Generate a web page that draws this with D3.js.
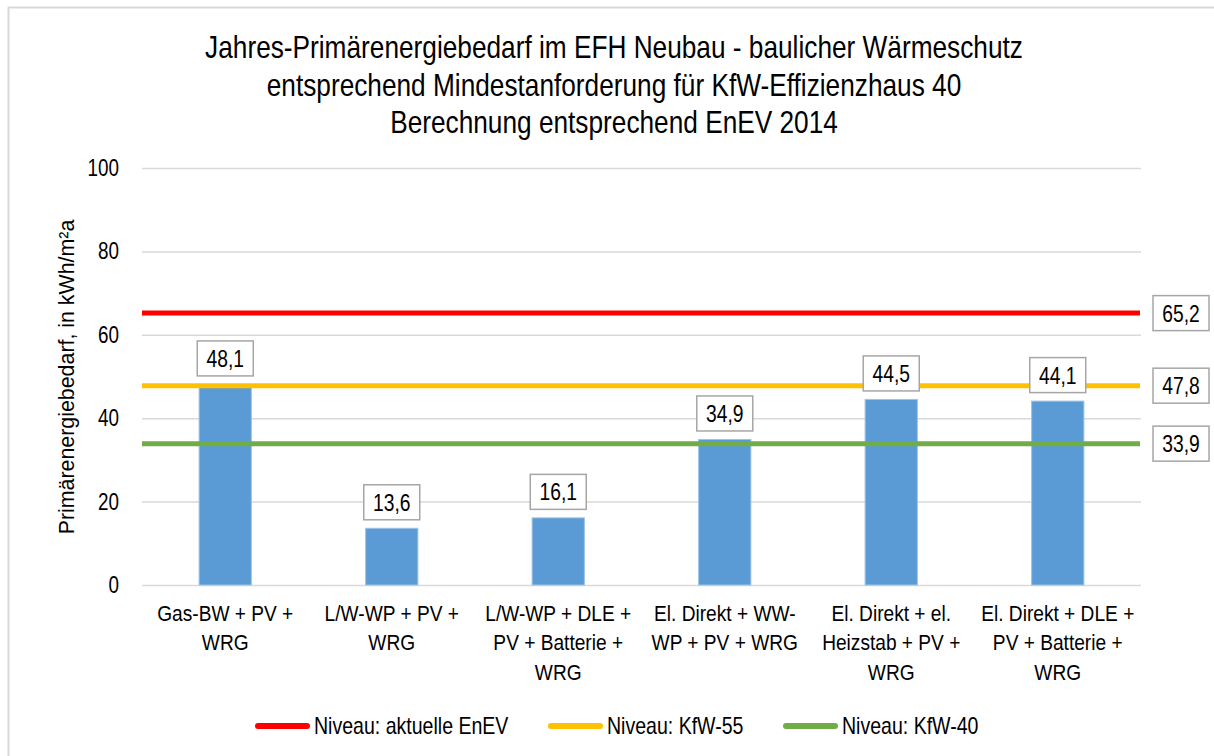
<!DOCTYPE html>
<html>
<head>
<meta charset="utf-8">
<script src="https://cdn.jsdelivr.net/npm/d3@7"></script>
<style>
  body { margin: 0; background: #fff; }
  text { font-family: "Liberation Sans Narrow", "Liberation Sans", Arial, sans-serif; fill: #000; }
</style>
</head>
<body>
<div id="chart"></div>
<script>
var categories = [
    "Gas-BW + PV +\nWRG",
    "L/W-WP + PV +\nWRG",
    "L/W-WP + DLE +\nPV + Batterie  +\nWRG",
    "El. Direkt + WW-\nWP + PV + WRG",
    "El. Direkt + el.\nHeizstab + PV +\nWRG",
    "El. Direkt + DLE +\nPV + Batterie +\nWRG"
];
var values = [48.1, 13.6, 16.1, 34.9, 44.5, 44.1];

var levelNames = ["Niveau: aktuelle EnEV", "Niveau: KfW-55", "Niveau: KfW-40"];
var levelValues = [65.2, 47.8, 33.9];
var levelColors = ["#ff0000", "#ffc000", "#70ad47"];

var yTicks = [0, 20, 40, 60, 80, 100];
var titleLines = [
    "Jahres-Primärenergiebedarf im EFH Neubau - baulicher Wärmeschutz",
    "entsprechend Mindestanforderung für KfW-Effizienzhaus 40",
    "Berechnung entsprechend EnEV 2014"
];

var W = 1214, H = 756;
var margin = { top: 168, bottom: 171, left: 142, right: 73 };
var width = W - margin.left - margin.right,
    height = H - margin.top - margin.bottom;

var fmt = function(v) { return d3.format(".1f")(v).replace(".", ","); };

// no narrow font installed, so squeeze the regular one horizontally
function narrow(parent, x, y, size, sx, anchor, str) {
    var t = parent.append("g")
        .attr("transform", "translate(" + x + "," + y + ") scale(" + sx + ",1)")
        .append("text")
        .attr("text-anchor", anchor)
        .style("font-size", size + "px");
    if (str != null) t.text(str);
    return t;
}

var svg = d3.select("#chart").append("svg")
    .attr("width", W)
    .attr("height", H);

// outer border
svg.append("rect")
    .attr("x", 8.5).attr("y", 7.5)
    .attr("width", W + 20).attr("height", H + 20)
    .attr("fill", "none")
    .attr("stroke", "#d9d9d9")
    .attr("stroke-width", 2);

// title
titleLines.forEach(function(d, i) {
    narrow(svg, 614, 58 + i * 37.5, 32, 0.82, "middle", d);
});

var g = svg.append("g")
    .attr("transform", "translate(" + margin.left + "," + margin.top + ")");

var x = d3.scaleBand()
    .domain(d3.range(categories.length))
    .range([0, width])
    .paddingInner(0.686)
    .paddingOuter(0.343);

var y = d3.scaleLinear().domain([0, 100]).range([height, 0]);

// gridlines
var yAxis = d3.axisLeft(y).tickValues(yTicks).tickSize(-width).tickFormat("");
g.append("g")
    .call(yAxis)
    .call(function(s) {
        s.select(".domain").remove();
        s.selectAll(".tick line").attr("stroke", "#d9d9d9").attr("stroke-width", 1.5);
    });

// y tick labels
yTicks.forEach(function(t) {
    narrow(g, -23, y(t) + 8, 23, 0.82, "end", t);
});

// y axis title
svg.append("g")
    .attr("transform", "translate(74,377) rotate(-90) scale(0.93,1)")
    .append("text")
    .attr("text-anchor", "middle")
    .style("font-size", "23px")
    .text("Primärenergiebedarf, in kWh/m²a");

// bars
g.append("g").selectAll("rect")
    .data(values)
    .enter().append("rect")
    .attr("x", function(d, i) { return x(i); })
    .attr("y", function(d) { return y(d); })
    .attr("width", x.bandwidth())
    .attr("height", function(d) { return height - y(d); })
    .attr("fill", "#5b9bd5")
    .attr("stroke", "#9dc3e6")
    .attr("stroke-width", 1);

// reference lines
g.append("g").selectAll("line")
    .data(levelValues)
    .enter().append("line")
    .attr("x1", 0)
    .attr("x2", width - 1)
    .attr("y1", function(d) { return y(d); })
    .attr("y2", function(d) { return y(d); })
    .attr("stroke", function(d, i) { return levelColors[i]; })
    .attr("stroke-width", 5);

// boxed labels
function labelBox(parent, cx, cy, txt) {
    var bw = 56, bh = 35;
    parent.append("rect")
        .attr("x", cx - bw / 2).attr("y", cy - bh / 2)
        .attr("width", bw).attr("height", bh)
        .attr("fill", "#fff")
        .attr("stroke", "#a6a6a6")
        .attr("stroke-width", 1.5);
    narrow(parent, cx, cy + 8.5, 23.5, 0.82, "middle", txt);
}

values.forEach(function(v, i) {
    labelBox(g, x(i) + x.bandwidth() / 2, y(v) - 26, fmt(v));
});

levelValues.forEach(function(v, i) {
    labelBox(g, width + 40, y(v), fmt(v));
});

// category labels
categories.forEach(function(c, i) {
    var t = narrow(g, x(i) + x.bandwidth() / 2, height, 22, 0.87, "middle");
    c.split("\n").forEach(function(line, j) {
        t.append("tspan")
            .attr("x", 0)
            .attr("y", 36 + j * 29.5)
            .text(line);
    });
});

// legend
var legendX = [255, 548, 783];
var legend = svg.append("g");
levelNames.forEach(function(n, i) {
    legend.append("line")
        .attr("x1", legendX[i] + 3).attr("x2", legendX[i] + 52)
        .attr("y1", 726).attr("y2", 726)
        .attr("stroke", levelColors[i])
        .attr("stroke-width", 6)
        .attr("stroke-linecap", "round");
    narrow(legend, legendX[i] + 59, 734, 23, 0.85, "start", n);
});
</script>
</body>
</html>
